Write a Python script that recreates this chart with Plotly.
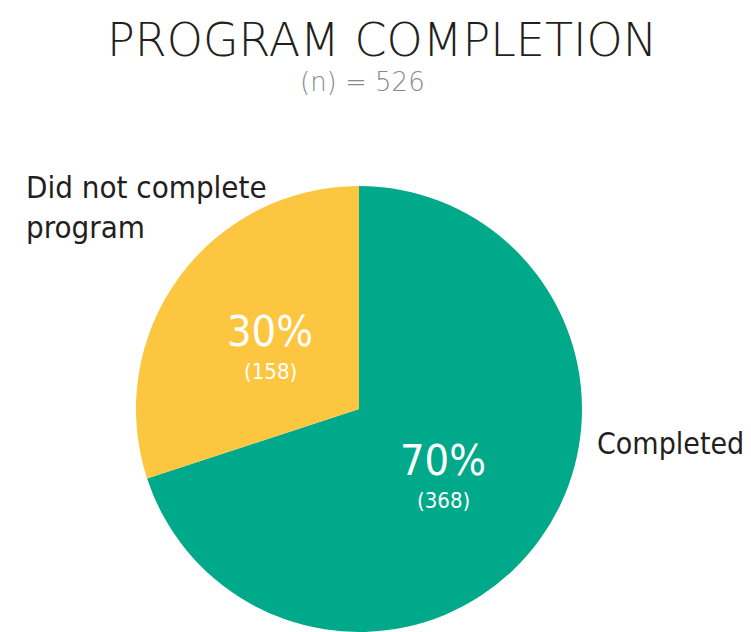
import plotly.graph_objects as go

# data
categories = ["Completed", "Did not complete<br>program"]
counts = [368, 158]
percents = [70, 30]
colors = ["#00A989", "#FDC641"]
total_n = 526

W, H = 751, 632

fig = go.Figure()
fig.add_trace(go.Pie(
    labels=categories, values=counts,
    marker=dict(colors=colors, line=dict(width=0)),
    sort=False, direction="clockwise", rotation=0,
    textinfo="none", showlegend=False,
    domain=dict(x=[132 / W, 586 / W], y=[0.0, 1 - 186 / H]),
))

cond = "DejaVu Sans Condensed, Liberation Sans Narrow, sans-serif"
# percentage labels inside the slices (pixel spots -> paper coords)
inside_pos = [(443, 460), (270, 331)]
for pct, n, (px_, py_) in zip(percents, counts, inside_pos):
    fig.add_annotation(x=px_ / W, y=1 - py_ / H, xref="paper", yref="paper", showarrow=False,
                       text=f"{pct}%", font=dict(family=cond, size=43, color="white", weight=300),
                       xanchor="center", yanchor="middle")
    fig.add_annotation(x=px_ / W, y=1 - (py_ + 40) / H, xref="paper", yref="paper", showarrow=False,
                       text=f"({n})", font=dict(family=cond, size=22, color="white", weight=300),
                       xanchor="center", yanchor="middle")

# outside category labels
fig.add_annotation(x=595 / W, y=1 - 443 / H, xref="paper", yref="paper", showarrow=False,
                   text=categories[0], font=dict(family=cond, size=30, color="#231f20"),
                   xanchor="left", yanchor="middle")
fig.add_annotation(x=24 / W, y=1 - 207 / H, xref="paper", yref="paper", showarrow=False,
                   text=categories[1], align="left",
                   font=dict(family=cond, size=31, color="#231f20"),
                   xanchor="left", yanchor="middle")

# title and subtitle
fig.add_annotation(x=382 / W, y=1 - 40 / H, xref="paper", yref="paper", showarrow=False,
                   text="PROGRAM COMPLETION",
                   font=dict(family="DejaVu Sans, sans-serif", size=46, color="#231f20", weight=200),
                   xanchor="center", yanchor="middle")
fig.add_annotation(x=362 / W, y=1 - 82 / H, xref="paper", yref="paper", showarrow=False,
                   text=f"(n) = {total_n}",
                   font=dict(family="DejaVu Sans, sans-serif", size=26, color="#8a8a8a", weight=200),
                   xanchor="center", yanchor="middle")

fig.update_layout(
    width=W, height=H,
    margin=dict(l=0, r=0, t=0, b=0),
    paper_bgcolor="white",
    plot_bgcolor="white",
)
# drop the default page margin so the figure sits at the window's corner
fig.write_html("out.html", config={"displayModeBar": False},
               post_script="document.body.style.margin='0';")
